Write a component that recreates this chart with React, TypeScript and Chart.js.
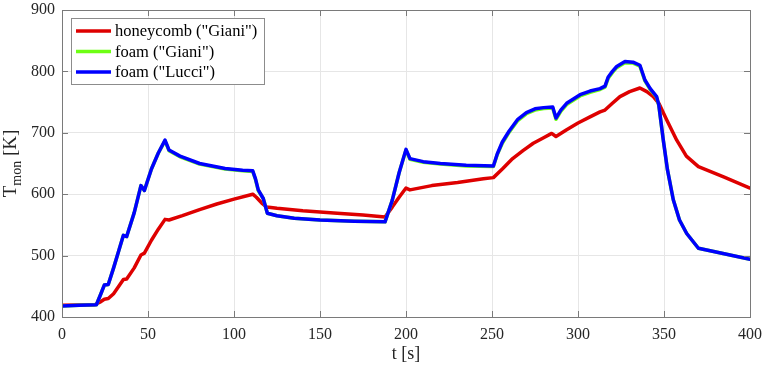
import React, { useEffect, useRef } from "react";
import { Chart, registerables } from "chart.js";

Chart.register(...registerables);

// ---------- data ----------
const seriesLabels = ['honeycomb ("Giani")', 'foam ("Giani")', 'foam ("Lucci")'];

const tHoneycombGiani = [0, 10, 19, 22, 24.6, 26.9, 30, 33, 35.7, 37.6, 42, 45.9, 47.9, 52, 56, 59.9, 62.2, 70, 80, 90, 100, 110.9, 113, 116, 119, 125, 140, 160, 175, 187.8, 192, 196, 200, 202.3, 215, 230, 245, 250.8, 256, 262, 268, 274, 280, 284.7, 287.2, 293.4, 300, 307, 312.8, 315.7, 320, 324.4, 330, 336, 340, 343.8, 347, 351.6, 357.4, 363, 370, 385, 400];
const tempHoneycombGiani = [419, 419.5, 420, 424, 429, 430, 438, 450, 461, 462, 480, 501, 504, 525, 543, 559, 558, 565, 575, 584, 592, 600, 595, 586, 579, 577, 573, 569, 566, 563, 579, 595, 610, 607, 614, 619, 625, 627, 641, 658, 671, 683, 692, 699, 694, 705, 716, 726, 734, 737, 748, 759, 767, 773, 767, 759, 748, 721, 688, 662, 645, 628, 610];

const tFoamGiani = [0, 10, 20, 22.5, 24.6, 26.9, 30, 33, 35.7, 37.6, 42, 45.9, 47.9, 52, 56, 59.9, 62.2, 68.6, 80, 94.8, 105, 110.9, 112.5, 114.1, 117, 119.4, 125, 135, 150, 170, 187.8, 192, 196, 200, 202.3, 210, 220, 235, 250.8, 253, 256, 260, 265, 270, 275, 280, 285.3, 287.2, 290, 293.4, 301.2, 307, 312.8, 315.7, 317.6, 320, 322.5, 327.3, 332, 336, 338.9, 342, 345.7, 347, 349.6, 352, 355.4, 359, 363.2, 370, 385, 400];
const tempFoamGiani = [418, 419, 420, 437, 452, 453, 480, 508, 533, 531, 570, 614, 606, 641, 667, 687, 671, 661, 649, 641, 638, 637, 624, 606, 593, 569, 565, 561, 558, 556, 555, 590, 635, 672, 657, 652, 649, 646, 645, 664, 683, 701, 720, 731, 737, 739.5, 740.5, 722, 735, 746, 760, 766, 770.5, 774.5, 789, 798, 806, 814, 813.5, 808.5, 784.5, 770.5, 758, 744, 688, 640, 591, 558, 536, 512, 503, 494];

const tFoamLucci = [0, 10, 20, 22.5, 24.6, 26.9, 30, 33, 35.7, 37.6, 42, 45.9, 47.9, 52, 56, 59.9, 62.2, 68.6, 80, 94.8, 105, 110.9, 112.5, 114.1, 117, 119.4, 125, 135, 150, 170, 187.8, 192, 196, 200, 202.3, 210, 220, 235, 250.8, 253, 256, 260, 265, 270, 275, 280, 285.3, 287.2, 290, 293.4, 301.2, 307, 312.8, 315.7, 317.6, 320, 322.5, 327.3, 332, 336, 338.9, 342, 345.7, 347, 349.6, 352, 355.4, 359, 363.2, 370, 385, 400];
const tempFoamLucci = [418, 419, 420, 437, 452, 453, 480, 508, 533, 531, 570, 614, 606, 641, 667, 688, 672, 662, 650, 642, 639, 638, 625, 607, 593, 569, 565, 561, 558, 556, 555, 590, 635, 673, 658, 653, 650, 647, 646, 665, 685, 703, 722, 733, 739, 741, 742, 724, 737, 748, 762, 768, 772, 776, 791, 800, 808, 816, 815, 810, 786, 772, 759, 745, 688, 640, 591, 558, 536, 512, 503, 494];

const xTicks = [0, 50, 100, 150, 200, 250, 300, 350, 400];
const yTicks = [400, 500, 600, 700, 800, 900];

// ---------- styles ----------
const COLORS = ["rgb(222,0,0)", "rgb(110,255,20)", "rgb(0,0,255)"];
const FONT = '"Liberation Serif", "Times New Roman", serif';
const AXIS_COLOR = "#7a7a7a";
const TEXT_COLOR = "#262626";
const GRID_COLOR = "#e6e6e6";

const toPts = (xs: number[], ys: number[]) => xs.map((x, i) => ({ x, y: ys[i] }));

const framePlugin = {
  id: "frame",
  afterDatasetsDraw(chart: any) {
    const { ctx, chartArea: a, scales } = chart;
    ctx.save();
    // ticks (inside) on all four sides
    ctx.strokeStyle = AXIS_COLOR;
    ctx.lineWidth = 1;
    const tl = 6;
    ctx.beginPath();
    xTicks.forEach((v) => {
      const px = Math.round(scales.x.getPixelForValue(v)) + 0.5;
      ctx.moveTo(px, a.bottom);
      ctx.lineTo(px, a.bottom - tl);
      ctx.moveTo(px, a.top);
      ctx.lineTo(px, a.top + tl);
    });
    yTicks.forEach((v) => {
      const py = Math.round(scales.y.getPixelForValue(v)) + 0.5;
      ctx.moveTo(a.left, py);
      ctx.lineTo(a.left + tl, py);
      ctx.moveTo(a.right, py);
      ctx.lineTo(a.right - tl, py);
    });
    ctx.stroke();
    // box
    ctx.strokeRect(Math.round(a.left) + 0.5, Math.round(a.top) + 0.5, Math.round(a.right - a.left), Math.round(a.bottom - a.top));

    // legend
    const lx = 71, ly = 18, lw = 193, lh = 66;
    ctx.fillStyle = "#ffffff";
    ctx.fillRect(lx, ly, lw, lh);
    ctx.strokeStyle = "#8c8c8c";
    ctx.strokeRect(lx + 0.5, ly + 0.5, lw, lh);
    ctx.font = `16.5px ${FONT}`;
    ctx.textBaseline = "middle";
    ctx.textAlign = "left";
    seriesLabels.forEach((lab, i) => {
      const y = ly + 13 + i * 20.5;
      ctx.strokeStyle = COLORS[i];
      ctx.lineWidth = 3.5;
      ctx.beginPath();
      ctx.moveTo(lx + 5, y);
      ctx.lineTo(lx + 40, y);
      ctx.stroke();
      ctx.fillStyle = "#000";
      ctx.fillText(lab, lx + 44, y + 1);
    });

    // axis titles
    ctx.fillStyle = TEXT_COLOR;
    ctx.textBaseline = "alphabetic";
    ctx.textAlign = "center";
    ctx.font = `18px ${FONT}`;
    ctx.fillText("t [s]", (a.left + a.right) / 2, 359);

    ctx.save();
    ctx.translate(16, (a.top + a.bottom) / 2);
    ctx.rotate(-Math.PI / 2);
    ctx.textAlign = "left";
    const big = `19px ${FONT}`;
    const small = `14px ${FONT}`;
    ctx.font = big;
    const wT = ctx.measureText("T").width;
    ctx.font = small;
    const wSub = ctx.measureText("mon").width;
    ctx.font = big;
    const wK = ctx.measureText(" [K]").width;
    let x0 = -(wT + wSub + wK) / 2;
    ctx.font = big;
    ctx.fillText("T", x0, 0);
    x0 += wT;
    ctx.font = small;
    ctx.fillText("mon", x0, 5);
    x0 += wSub;
    ctx.font = big;
    ctx.fillText(" [K]", x0, 0);
    ctx.restore();

    ctx.restore();
  },
};

const zeroPad = (s: any) => {
  s.paddingLeft = 0;
  s.paddingRight = 0;
  s.paddingTop = 0;
  s.paddingBottom = 0;
};

export default function App() {
  const ref = useRef<HTMLCanvasElement | null>(null);
  useEffect(() => {
    if (!ref.current) return;
    const chart = new Chart(ref.current, {
      type: "line",
      data: {
        datasets: [
          { label: seriesLabels[0], data: toPts(tHoneycombGiani, tempHoneycombGiani), borderColor: COLORS[0], order: 2 },
          { label: seriesLabels[1], data: toPts(tFoamGiani, tempFoamGiani), borderColor: COLORS[1], order: 1 },
          { label: seriesLabels[2], data: toPts(tFoamLucci, tempFoamLucci), borderColor: COLORS[2], order: 0 },
        ].map((d) => ({ ...d, borderWidth: 3.5, pointRadius: 0, tension: 0, fill: false, borderJoinStyle: "round" as const, borderCapStyle: "round" as const })),
      },
      options: {
        responsive: false,
        devicePixelRatio: 1,
        animation: false,
        layout: { autoPadding: false, padding: { top: 10, right: 15, left: 0, bottom: 0 } },
        plugins: { legend: { display: false }, tooltip: { enabled: false } },
        scales: {
          x: {
            type: "linear",
            min: 0,
            max: 400,
            afterBuildTicks: (s: any) => { s.ticks = xTicks.map((v) => ({ value: v })); },
            afterFit: (s: any) => { s.height = 49; zeroPad(s); },
            grid: { color: GRID_COLOR, drawTicks: false },
            border: { display: false },
            ticks: { padding: 8, color: TEXT_COLOR, font: { family: FONT, size: 16 }, maxRotation: 0 },
          },
          y: {
            type: "linear",
            min: 400,
            max: 900,
            afterBuildTicks: (s: any) => { s.ticks = yTicks.map((v) => ({ value: v })); },
            afterFit: (s: any) => { s.width = 62; zeroPad(s); },
            grid: { color: GRID_COLOR, drawTicks: false },
            border: { display: false },
            ticks: { padding: 7, color: TEXT_COLOR, font: { family: FONT, size: 16 } },
          },
        },
      },
      plugins: [framePlugin],
    });
    return () => chart.destroy();
  }, []);
  return (
    <div style={{ position: "fixed", left: 0, top: 0, width: 765, height: 366, background: "#fff" }}>
      <canvas ref={ref} width={765} height={366} />
    </div>
  );
}
